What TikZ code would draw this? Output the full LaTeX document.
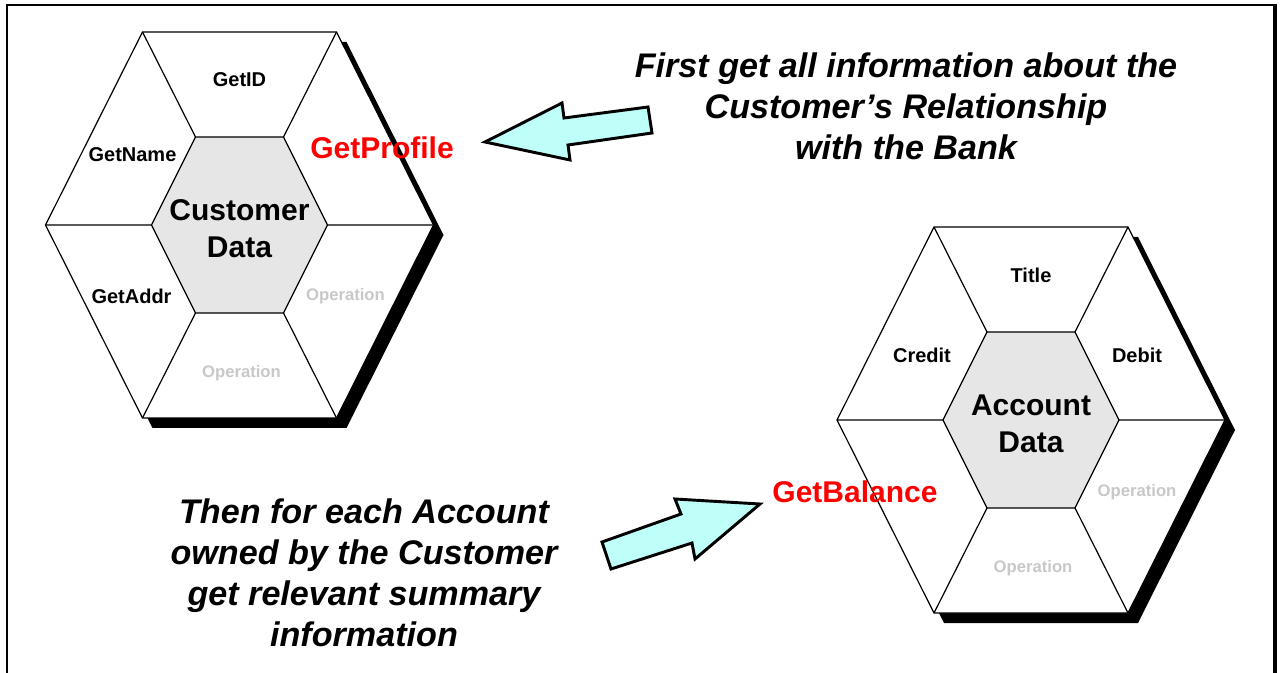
\documentclass[tikz,border=0pt]{standalone}
\usepackage{fontspec}
\setmainfont{Liberation Sans}
\usepackage{tikz}
\usetikzlibrary{positioning}
\definecolor{hubgray}{RGB}{230,230,230}
\definecolor{opgray}{RGB}{200,200,200}
\definecolor{callred}{RGB}{255,0,0}
\definecolor{arrowcyan}{RGB}{190,255,250}

% six cells round a grey hub, with a drop shadow; centred at the origin
\newcommand{\hexbody}{%
  \fill[shift={(10,10)}] (-194,0) -- (-97,-193) -- (97,-193) -- (194,0) -- (97,193) -- (-97,193) -- cycle;
  \draw[cell] (-194,0) -- (-97,-193) -- (97,-193) -- (194,0) -- (97,193) -- (-97,193) -- cycle;
  \draw[hub] (-88,0) -- (-44,-88) -- (44,-88) -- (88,0) -- (44,88) -- (-44,88) -- cycle;
  \draw (-194,0) -- (-88,0) (194,0) -- (88,0)
        (-97,-193) -- (-44,-88) (97,-193) -- (44,-88)
        (-97,193) -- (-44,88) (97,193) -- (44,88);
}

\begin{document}
\begin{tikzpicture}[
  x=0.75pt, y=-0.75pt,
  line width=0.9pt,
  cell/.style={draw=black, fill=white},
  hub/.style={draw=black, fill=hubgray},
  op/.style={font=\fontsize{15}{18}\selectfont\bfseries},
  opoff/.style={font=\fontsize{12.5}{15}\selectfont\bfseries, text=opgray},
  call/.style={font=\fontsize{22.5}{27}\selectfont\bfseries, text=callred},
  core/.style={font=\fontsize{22.5}{27.75}\selectfont\bfseries, align=center},
  note/.style={font=\fontsize{25.6}{30.75}\selectfont\bfseries\itshape, align=center},
  blockarrow/.style={draw=black, fill=arrowcyan, line width=2.2pt, line join=miter},
  ]
  \useasboundingbox (0,0) rectangle (1282,673);

  % page frame
  \draw[line width=1.5pt] (7,673) -- (7,5) -- (1275,5);
  \draw[line width=3pt] (1275,4) -- (1275,673);

  % customer hexagon
  \begin{scope}[shift={(239.5,225)}]
    \hexbody
    \node[core] (custcore) at (0,3.5) {Customer\\Data};
    \node[op] (custid) at (0,-145) {GetID};
    \node[op] (custname) at (-107,-70) {GetName};
    \node[op] (custaddr) at (-108,71) {GetAddr};
    \node[opoff] (custopa) at (106,71) {Operation};
    \node[opoff] (custopb) at (2,148) {Operation};
    \node[call] (custprofile) at (142.5,-77) {GetProfile};
  \end{scope}

  % account hexagon
  \begin{scope}[shift={(1031,420)}]
    \hexbody
    \node[core] (acccore) at (0,3.5) {Account\\Data};
    \node[op] (acctitle) at (0,-145) {Title};
    \node[op] (acccredit) at (-109,-65) {Credit};
    \node[op] (accdebit) at (106,-65) {Debit};
    \node[opoff] (accopa) at (106,72) {Operation};
    \node[opoff] (accopb) at (2,148) {Operation};
    \node[call] (accbalance) at (-176,72) {GetBalance};
  \end{scope}

  % notes and the arrows pointing at the calls
  \node[note] (firstnote) at (906,106) {First get all information about the\\Customer’s Relationship\\with the Bank};
  \node[note] (thennote) at (364,573) {Then for each Account\\owned by the Customer\\get relevant summary\\information};

  \draw[blockarrow] (485,142) -- (562,103) -- (564,118) -- (648,107)
    -- (652,133) -- (568,145) -- (570,160) -- cycle;
  \draw[blockarrow] (760,504) -- (695,559) -- (692,543) -- (611,569)
    -- (602,542) -- (681,514) -- (675,499) -- cycle;
\end{tikzpicture}
\end{document}
